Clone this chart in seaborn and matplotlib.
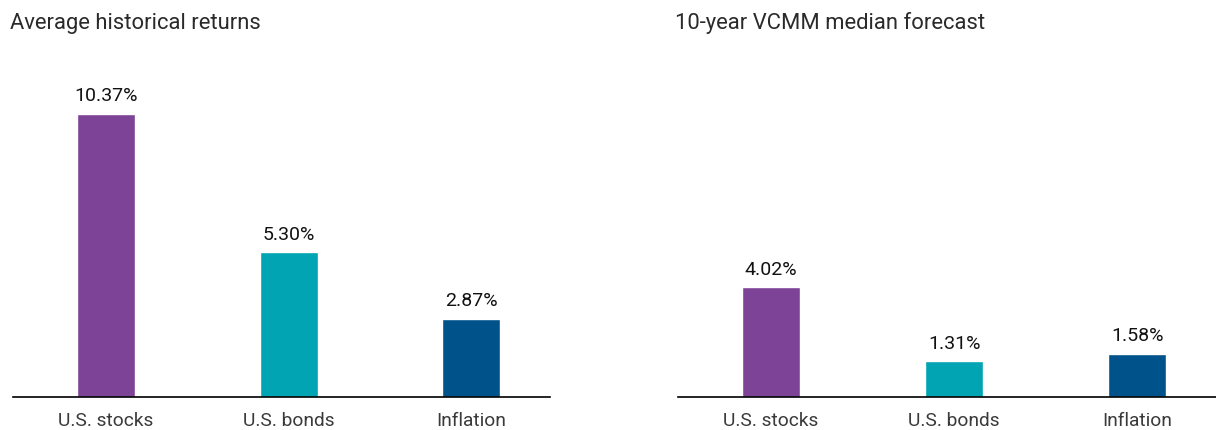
import pandas as pd
import matplotlib.pyplot as plt
import seaborn as sns

# Chart data
categories = ['U.S. stocks', 'U.S. bonds', 'Inflation']
historical = [10.37, 5.30, 2.87]
forecast = [4.02, 1.31, 1.58]
titles = ['Average historical returns', '10-year VCMM median forecast']
colors = ['#7D4397', '#00A4B2', '#00538A']

sns.set_theme(style="white")
plt.rcParams['font.family'] = ['Roboto', 'DejaVu Sans']

fig = plt.figure(figsize=(12.16, 4.3), dpi=100)

# axes placement in pixels: (left, right) for each panel
W, H = 1216, 430
panels = [(13, 550), (678, 1216)]
bottom_px, top_px = 397, 69

for (x0, x1), vals, title in zip(panels, [historical, forecast], titles):
    ax = fig.add_axes([x0 / W, (H - bottom_px) / H, (x1 - x0) / W, (bottom_px - top_px) / H])
    df = pd.DataFrame({'category': categories, 'value': vals})
    sns.barplot(data=df, x='category', y='value', hue='category', palette=colors,
                width=0.317, saturation=1, legend=False, ax=ax)
    for c in ax.containers:
        ax.bar_label(c, labels=[f'{v:.2f}%' for v in c.datavalues], padding=6,
                     fontsize=14, color='#111111')
    ax.set_xlim(-0.508, 2.43)
    ax.set_ylim(0, 12)
    ax.set_xlabel('')
    ax.set_ylabel('')
    ax.set_yticks([])
    ax.tick_params(axis='x', length=0, pad=11, labelsize=13.8, labelcolor='#3a3a3a')
    for side in ['top', 'right', 'left']:
        ax.spines[side].set_visible(False)
    ax.spines['bottom'].set_color('black')
    ax.spines['bottom'].set_linewidth(1.2)
    ax.patch.set_alpha(0)
    fig.text((x0 - 3) / W, 1 - 23 / H, title, fontsize=15.8, color='#2a2a2a',
             va='center', ha='left')

plt.savefig('out.png', dpi=100)
plt.close()
